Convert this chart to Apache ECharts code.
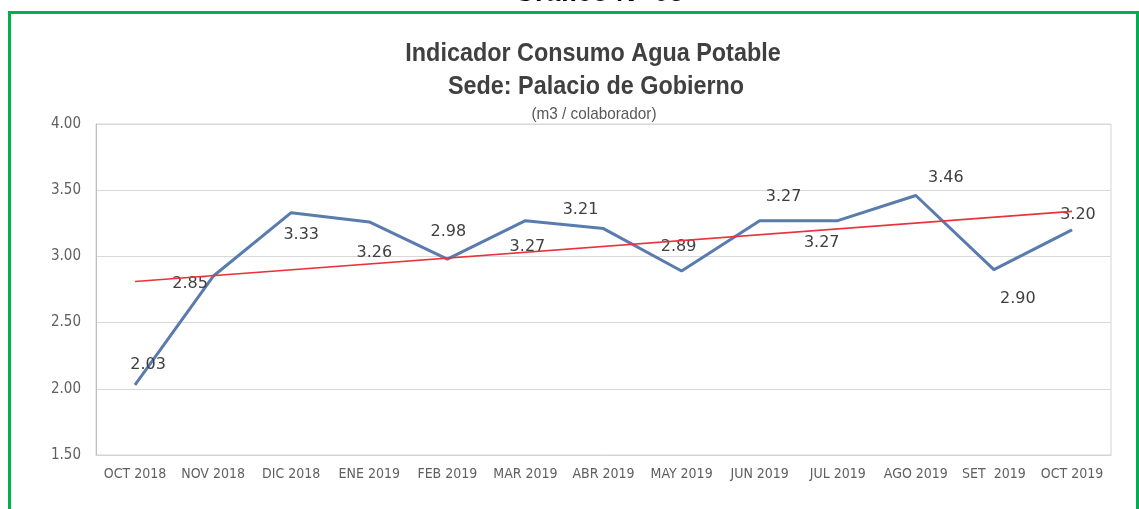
<!DOCTYPE html>
<html>
<head>
<meta charset="utf-8">
<script src="https://cdn.jsdelivr.net/npm/echarts@6/dist/echarts.min.js"></script>
<style>
html,body{margin:0;padding:0;background:#fff;}
#c{width:1139px;height:509px;}
</style>
</head>
<body>
<div id="c"></div>
<script>
const categories = ["OCT 2018","NOV 2018","DIC 2018","ENE 2019","FEB 2019","MAR 2019","ABR 2019","MAY 2019","JUN 2019","JUL 2019","AGO 2019","SET  2019","OCT 2019"];
const consumo = [2.03, 2.85, 3.33, 3.26, 2.98, 3.27, 3.21, 2.89, 3.27, 3.27, 3.46, 2.90, 3.20];
const tendencia = [2.81, null, null, null, null, null, null, null, null, null, null, null, 3.34];
const yTicks = [1.5, 2.0, 2.5, 3.0, 3.5, 4.0];

const labelOffsets = [[13,-20],[-23,8],[10,22],[5,31],[1,-27],[2,26],[-23,-19],[-3,-24],[24,-24],[-16,22],[30,-18],[24,29],[6,-15]];
const cond = "'DejaVu Sans Condensed','Liberation Sans',sans-serif";
const sans = "'Liberation Sans',Arial,sans-serif";

const chart = echarts.init(document.getElementById('c'), null, {renderer:'canvas'});
chart.setOption({
  backgroundColor:'#ffffff',
  animation:false,
  graphic:[
    {type:'rect', shape:{x:9.5,y:12.5,width:1128,height:560}, style:{fill:'none', stroke:'#00b050', lineWidth:3}, z:100},
    {type:'text', x:599, y:7, style:{text:'Gráfico N° 05', font:"bold 27px " + sans, fill:'#000', textAlign:'center', textVerticalAlign:'bottom'}, z:100},
    {type:'text', x:593, y:54, scaleX:0.935, style:{text:'Indicador Consumo Agua Potable', font:"bold 25px " + sans, fill:'#404040', textAlign:'center', textVerticalAlign:'middle'}},
    {type:'text', x:596, y:87, scaleX:0.935, style:{text:'Sede: Palacio de Gobierno', font:"bold 25px " + sans, fill:'#404040', textAlign:'center', textVerticalAlign:'middle'}},
    {type:'text', x:594, y:114, scaleX:0.9, style:{text:'(m3 / colaborador)', font:"17px " + sans, fill:'#595959', textAlign:'center', textVerticalAlign:'middle'}}
  ],
  grid:{left:96, top:124, right:28, bottom:54, show:true, borderColor:'#d4d4d4', borderWidth:1},
  xAxis:{
    type:'category', data:categories, boundaryGap:true,
    axisTick:{show:false},
    axisLine:{lineStyle:{color:'#d4d4d4'}},
    axisLabel:{color:'#606060', fontFamily:cond, fontSize:14, margin:12, interval:0}
  },
  yAxis:{
    type:'value', min:yTicks[0], max:yTicks[yTicks.length-1], interval:0.5,
    axisLine:{show:true, lineStyle:{color:'#bfbfbf'}},
    axisTick:{show:false},
    splitLine:{lineStyle:{color:'#d9d9d9'}},
    axisLabel:{color:'#606060', fontFamily:cond, fontSize:15, margin:15, formatter:v=>v.toFixed(2)}
  },
  series:[
    {
      type:'line', name:'Consumo',
      data:consumo.map((v,i)=>({value:v, label:{offset:labelOffsets[i]}})),
      symbol:'circle', symbolSize:1, showSymbol:true,
      lineStyle:{color:'#5a7bad', width:3},
      itemStyle:{color:'#5a7bad'},
      label:{show:true, position:'inside', color:'#404040', fontSize:16, fontFamily:"'DejaVu Sans', sans-serif", formatter:p=>p.value.toFixed(2)},
      z:3
    },
    {
      type:'line', name:'Tendencia', data:tendencia, connectNulls:true,
      symbol:'none', lineStyle:{color:'#e8323c', width:1.6}, itemStyle:{color:'#e8323c'}, z:4
    }
  ]
});
</script>
</body>
</html>
